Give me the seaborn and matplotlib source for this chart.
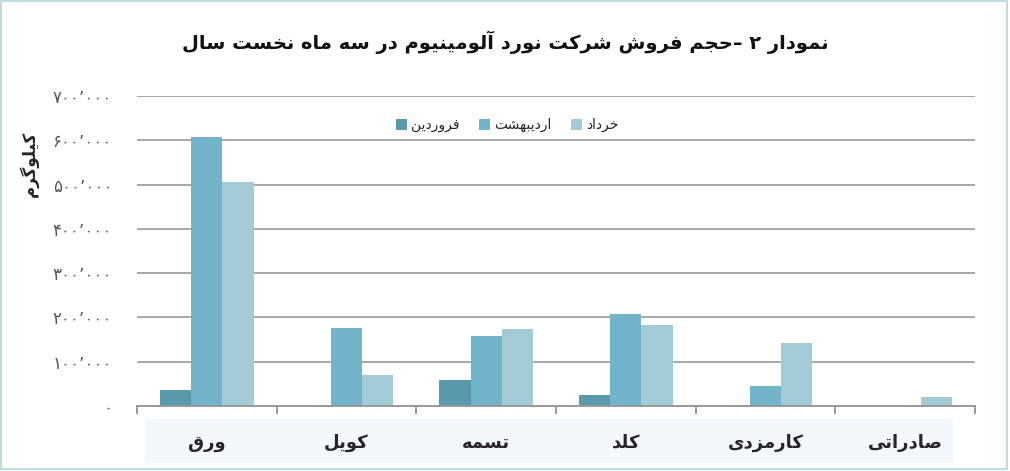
import matplotlib
matplotlib.use("Agg")
import matplotlib.pyplot as plt
import seaborn as sns
import pandas as pd
from matplotlib.patches import Rectangle
from matplotlib.ticker import FixedLocator

# ---------------- data ----------------
title_text = "نمودار ۲ –حجم فروش شرکت نورد آلومینیوم در سه ماه نخست سال"
ylabel_text = "کیلوگرم"
categories = ["ورق", "کویل", "تسمه", "کلد", "کارمزدی", "صادراتی"]
months = ["فروردین", "اردیبهشت", "خرداد"]
farvardin = [36000, 0, 59000, 25000, 0, 0]
ordibehesht = [607000, 176000, 158000, 208000, 45000, 0]
khordad = [506000, 70000, 174000, 183000, 142000, 20000]
ytick_values = [0, 100000, 200000, 300000, 400000, 500000, 600000, 700000]
ytick_labels = ["۰", "۱۰۰٬۰۰۰", "۲۰۰٬۰۰۰", "۳۰۰٬۰۰۰", "۴۰۰٬۰۰۰",
                "۵۰۰٬۰۰۰", "۶۰۰٬۰۰۰", "۷۰۰٬۰۰۰"]
colors = ["#5a98ac", "#72b4c9", "#a3cbd6"]

# ---------------- minimal Persian shaping (display only) ----------------
FORMS = {
    "ا": ("\uFE8D", "\uFE8E", None, None),
    "آ": ("\uFE81", "\uFE82", None, None),
    "ب": ("\uFE8F", "\uFE90", "\uFE91", "\uFE92"),
    "ت": ("\uFE95", "\uFE96", "\uFE97", "\uFE98"),
    "ج": ("\uFE9D", "\uFE9E", "\uFE9F", "\uFEA0"),
    "ح": ("\uFEA1", "\uFEA2", "\uFEA3", "\uFEA4"),
    "خ": ("\uFEA5", "\uFEA6", "\uFEA7", "\uFEA8"),
    "د": ("\uFEA9", "\uFEAA", None, None),
    "ر": ("\uFEAD", "\uFEAE", None, None),
    "ز": ("\uFEAF", "\uFEB0", None, None),
    "س": ("\uFEB1", "\uFEB2", "\uFEB3", "\uFEB4"),
    "ش": ("\uFEB5", "\uFEB6", "\uFEB7", "\uFEB8"),
    "ص": ("\uFEB9", "\uFEBA", "\uFEBB", "\uFEBC"),
    "ف": ("\uFED1", "\uFED2", "\uFED3", "\uFED4"),
    "ق": ("\uFED5", "\uFED6", "\uFED7", "\uFED8"),
    "ک": ("\uFB8E", "\uFB8F", "\uFB90", "\uFB91"),
    "گ": ("\uFB92", "\uFB93", "\uFB94", "\uFB95"),
    "ل": ("\uFEDD", "\uFEDE", "\uFEDF", "\uFEE0"),
    "م": ("\uFEE1", "\uFEE2", "\uFEE3", "\uFEE4"),
    "ن": ("\uFEE5", "\uFEE6", "\uFEE7", "\uFEE8"),
    "ه": ("\uFEE9", "\uFEEA", "\uFEEB", "\uFEEC"),
    "و": ("\uFEED", "\uFEEE", None, None),
    "ی": ("\uFBFC", "\uFBFD", "\uFBFE", "\uFBFF"),
}


def shape(s):
    out = []
    n = len(s)
    for i, c in enumerate(s):
        if c not in FORMS:
            out.append(c)
            continue
        iso, fin, ini, med = FORMS[c]
        prev = s[i - 1] if i > 0 else None
        nxt = s[i + 1] if i < n - 1 else None
        jp = prev in FORMS and FORMS[prev][2] is not None
        jn = ini is not None and nxt in FORMS
        if jp and jn:
            out.append(med)
        elif jp:
            out.append(fin)
        elif jn:
            out.append(ini)
        else:
            out.append(iso)
    return "".join(out)[::-1]


# ---------------- figure ----------------
sns.set_theme(style="white")
plt.rcParams["font.family"] = ["DejaVu Sans"]

fig = plt.figure(figsize=(10.1, 4.71), dpi=100)
W, H = 1010, 471
ax = fig.add_axes([137 / W, 1 - 406 / H, (975 - 137) / W, (406 - 96) / H])

df = pd.DataFrame({
    "cat": categories * 3,
    "month": [m for m in months for _ in categories],
    "value": farvardin + ordibehesht + khordad,
})
df["cat_disp"] = df["cat"].map(shape)
df["month_disp"] = df["month"].map(shape)

sns.barplot(data=df, x="cat_disp", y="value", hue="month_disp",
            order=[shape(c) for c in categories],
            hue_order=[shape(m) for m in months],
            palette=colors, width=0.67, saturation=1, ax=ax, linewidth=0,
            legend=True)

ax.set_ylim(0, 700000)
ax.set_xlim(-0.5, len(categories) - 0.5)
ax.yaxis.set_major_locator(FixedLocator(ytick_values))
ax.set_yticklabels(ytick_labels)
for sp in ["top", "right", "left"]:
    ax.spines[sp].set_visible(False)
ax.spines["bottom"].set_color("#999999")
ax.spines["bottom"].set_linewidth(1.4)
ax.grid(axis="y", color="#a0a0a0", linewidth=1.3)
ax.set_axisbelow(True)
ax.tick_params(axis="y", length=0, pad=18, labelsize=12, labelcolor="#555555")
ax.tick_params(axis="x", which="major", length=0, pad=20, labelsize=13)
for lbl in ax.get_xticklabels():
    lbl.set_fontweight("bold")
ax.xaxis.set_minor_locator(FixedLocator([i - 0.5 for i in range(len(categories) + 1)]))
ax.tick_params(axis="x", which="minor", bottom=True, length=6, width=1.4,
               color="#999999", direction="out")
ax.set_xlabel("")
ax.set_ylabel(shape(ylabel_text), fontsize=12, fontweight="bold", labelpad=0)
ax.yaxis.set_label_coords(-0.117, 0.78)

leg = ax.legend(loc="center", bbox_to_anchor=(0.4415, 0.906), ncol=3,
                frameon=False, fontsize=10, handlelength=0.8, handleheight=0.8,
                handletextpad=0.3, columnspacing=1.4)

fig.text(0.5, 1 - 42 / H, shape(title_text), ha="center", va="center",
         fontsize=14, fontweight="bold", color="#111111")

# label band and frame
fig.patches.append(Rectangle((145 / W, 1 - 463 / H), (953 - 145) / W, 44 / H,
                             transform=fig.transFigure, facecolor="#f3f9fb",
                             edgecolor="none", zorder=-1))
fig.patches.append(Rectangle((1 / W, 1 - 469 / H), 1006 / W, 468 / H,
                             transform=fig.transFigure, facecolor="none",
                             edgecolor="#b3d6df", linewidth=1.2, zorder=5))

fig.savefig("out.png", dpi=100)
